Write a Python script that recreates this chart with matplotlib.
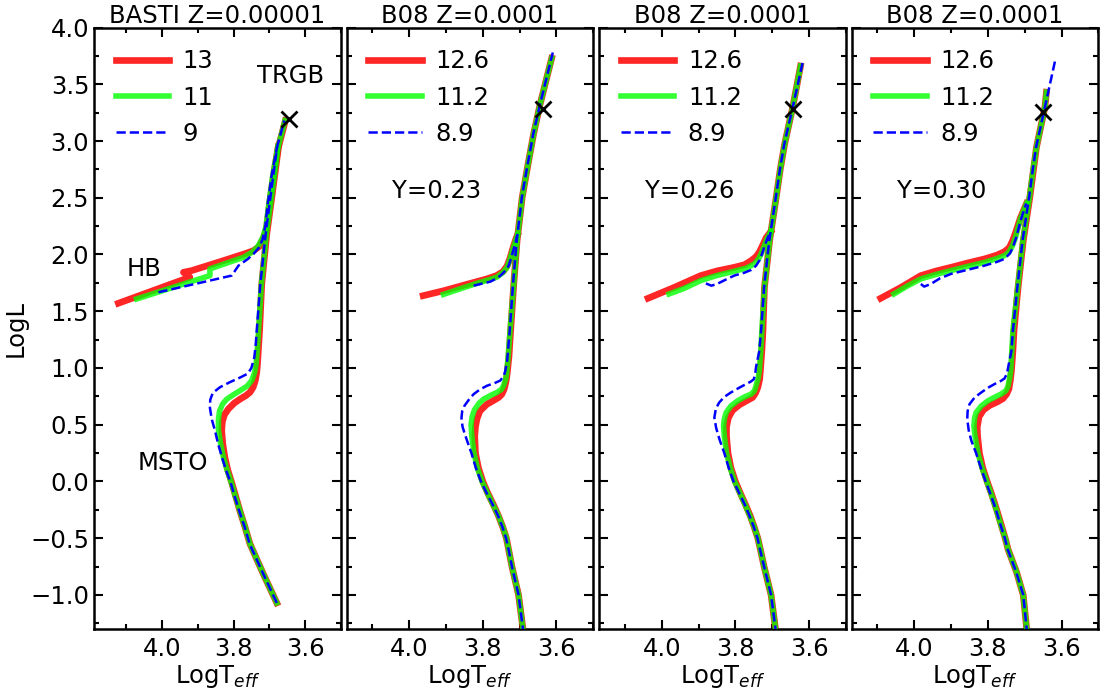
import matplotlib
matplotlib.use("Agg")
import matplotlib.pyplot as plt
from matplotlib.ticker import MultipleLocator

FS = 17.5

plt.rcParams.update({
    "font.family": "DejaVu Sans",
    "font.size": FS,
    "axes.linewidth": 1.8,
    "xtick.direction": "in",
    "ytick.direction": "in",
    "xtick.top": True,
    "ytick.right": True,
    "xtick.major.size": 6.5,
    "ytick.major.size": 6.5,
    "xtick.minor.size": 3.5,
    "ytick.minor.size": 3.5,
    "xtick.major.width": 1.5,
    "ytick.major.width": 1.5,
    "xtick.minor.width": 1.5,
    "ytick.minor.width": 1.5,
    "xtick.major.pad": 6,
})

titles = ["BASTI Z=0.00001", "B08 Z=0.0001", "B08 Z=0.0001", "B08 Z=0.0001"]
age_labels = [["13", "11", "9"], ["12.6", "11.2", "8.9"], ["12.6", "11.2", "8.9"], ["12.6", "11.2", "8.9"]]
helium = [None, "Y=0.23", "Y=0.26", "Y=0.30"]
x_limits = [(4.19, 3.5), (4.17, 3.5), (4.17, 3.5), (4.17, 3.5)]

# (LogTeff, LogL): main sequence -> RGB tip, then HB -> AGB
basti_13_ms = [(3.679, -1.07), (3.716, -0.82), (3.754, -0.55), (3.768, -0.40), (3.782, -0.26),
               (3.794, -0.13), (3.805, -0.01), (3.816, 0.10), (3.824, 0.21), (3.830, 0.33),
               (3.833, 0.45), (3.831, 0.53), (3.825, 0.59), (3.814, 0.64), (3.798, 0.69),
               (3.782, 0.725), (3.766, 0.755), (3.754, 0.785), (3.745, 0.83), (3.739, 0.89),
               (3.735, 0.96), (3.733, 1.03), (3.730, 1.18), (3.727, 1.33), (3.721, 1.74),
               (3.707, 2.18), (3.693, 2.50), (3.674, 2.95), (3.655, 3.18)]
basti_11_ms = [(3.679, -1.07), (3.716, -0.82), (3.754, -0.55), (3.768, -0.40), (3.782, -0.26),
               (3.795, -0.13), (3.806, -0.01), (3.818, 0.10), (3.828, 0.21), (3.836, 0.33),
               (3.842, 0.45), (3.842, 0.55), (3.839, 0.62), (3.831, 0.68), (3.819, 0.725),
               (3.800, 0.765), (3.782, 0.80), (3.762, 0.84), (3.749, 0.89), (3.741, 0.96),
               (3.737, 1.03), (3.733, 1.18), (3.730, 1.33), (3.722, 1.74), (3.708, 2.18),
               (3.694, 2.50), (3.675, 2.95), (3.656, 3.18)]
basti_9_ms = [(3.679, -1.07), (3.716, -0.82), (3.755, -0.55), (3.769, -0.40), (3.784, -0.26),
              (3.797, -0.13), (3.808, -0.01), (3.821, 0.10), (3.832, 0.21), (3.843, 0.33),
              (3.852, 0.45), (3.861, 0.55), (3.866, 0.65), (3.865, 0.72), (3.858, 0.78),
              (3.838, 0.83), (3.810, 0.875), (3.782, 0.915), (3.760, 0.95), (3.750, 1.00),
              (3.742, 1.09), (3.738, 1.20), (3.735, 1.33), (3.725, 1.74), (3.710, 2.18),
              (3.697, 2.50), (3.678, 2.95), (3.658, 3.18)]
basti_13_hb = [(4.122, 1.57), (3.922, 1.80), (3.940, 1.843), (3.917, 1.858), (3.828, 1.946),
               (3.765, 2.01), (3.744, 2.034), (3.728, 2.07), (3.717, 2.14), (3.708, 2.22),
               (3.699, 2.45), (3.688, 2.70), (3.675, 2.95)]
basti_11_hb = [(4.071, 1.608), (3.866, 1.814), (3.866, 1.873), (3.772, 1.975), (3.748, 2.02),
               (3.732, 2.07), (3.718, 2.15), (3.709, 2.25), (3.701, 2.45), (3.690, 2.70),
               (3.676, 2.95)]
basti_9_hb = [(4.010, 1.667), (3.805, 1.814), (3.786, 1.902), (3.760, 1.96), (3.744, 2.005),
              (3.729, 2.06), (3.719, 2.13), (3.711, 2.25), (3.704, 2.45), (3.693, 2.70),
              (3.678, 2.95)]

y23_126_ms = [(3.689, -1.35), (3.703, -1.0), (3.721, -0.75), (3.730, -0.6), (3.736, -0.5),
              (3.746, -0.4), (3.758, -0.3), (3.772, -0.2), (3.787, -0.1), (3.800, 0.0),
              (3.812, 0.12), (3.820, 0.25), (3.822, 0.40), (3.820, 0.48), (3.816, 0.55),
              (3.808, 0.62), (3.789, 0.68), (3.770, 0.715), (3.757, 0.74), (3.748, 0.77),
              (3.742, 0.814), (3.737, 0.88), (3.734, 0.946), (3.729, 1.10), (3.725, 1.30),
              (3.716, 1.74), (3.707, 2.12), (3.693, 2.505), (3.677, 2.80), (3.662, 3.064),
              (3.644, 3.33), (3.613, 3.73)]
y23_112_ms = [(3.689, -1.35), (3.703, -1.0), (3.721, -0.75), (3.730, -0.6), (3.736, -0.5),
              (3.746, -0.4), (3.758, -0.3), (3.773, -0.2), (3.788, -0.1), (3.802, 0.0),
              (3.815, 0.12), (3.824, 0.25), (3.830, 0.40), (3.832, 0.50), (3.829, 0.57),
              (3.823, 0.63), (3.810, 0.69), (3.798, 0.725), (3.778, 0.76), (3.762, 0.784),
              (3.750, 0.81), (3.744, 0.843), (3.738, 0.90), (3.735, 0.96), (3.730, 1.152),
              (3.726, 1.33), (3.716, 1.74), (3.707, 2.12), (3.693, 2.505), (3.677, 2.80),
              (3.662, 3.064), (3.644, 3.33), (3.613, 3.73)]
y23_89_ms = [(3.689, -1.35), (3.703, -1.0), (3.721, -0.75), (3.730, -0.6), (3.737, -0.5),
             (3.747, -0.4), (3.759, -0.3), (3.774, -0.2), (3.790, -0.1), (3.805, 0.0),
             (3.819, 0.12), (3.831, 0.25), (3.845, 0.38), (3.855, 0.48), (3.858, 0.56),
             (3.856, 0.62), (3.850, 0.666), (3.838, 0.72), (3.825, 0.769), (3.808, 0.81),
             (3.789, 0.843), (3.768, 0.867), (3.753, 0.888), (3.743, 0.93), (3.739, 0.975),
             (3.734, 1.06), (3.727, 1.33), (3.718, 1.74), (3.708, 2.12), (3.694, 2.505),
             (3.678, 2.80), (3.663, 3.064), (3.644, 3.33), (3.610, 3.78)]
y23_126_hb = [(3.962, 1.637), (3.907, 1.68), (3.840, 1.74), (3.789, 1.785), (3.762, 1.815),
              (3.745, 1.85), (3.734, 1.90), (3.726, 1.97), (3.718, 2.06), (3.710, 2.14),
              (3.706, 2.17)]
y23_112_hb = [(3.907, 1.648), (3.850, 1.71), (3.807, 1.755), (3.780, 1.78), (3.762, 1.80),
              (3.746, 1.84), (3.734, 1.887), (3.726, 1.96), (3.719, 2.04), (3.711, 2.12),
              (3.706, 2.17)]
y23_89_hb = [(3.825, 1.725), (3.800, 1.745), (3.780, 1.76), (3.762, 1.79), (3.750, 1.82),
             (3.738, 1.86), (3.730, 1.90), (3.723, 1.97), (3.716, 2.05), (3.710, 2.12),
             (3.707, 2.17)]

y26_126_ms = [(3.689, -1.35), (3.703, -1.0), (3.722, -0.75), (3.732, -0.6), (3.739, -0.5),
              (3.749, -0.4), (3.760, -0.3), (3.773, -0.2), (3.787, -0.1), (3.800, 0.0),
              (3.812, 0.12), (3.820, 0.25), (3.824, 0.40), (3.824, 0.48), (3.819, 0.56),
              (3.808, 0.625), (3.789, 0.675), (3.770, 0.71), (3.753, 0.74), (3.745, 0.78),
              (3.739, 0.828), (3.734, 0.90), (3.732, 0.975), (3.728, 1.15), (3.725, 1.33),
              (3.721, 1.71), (3.707, 2.12), (3.689, 2.505), (3.678, 2.75), (3.666, 2.976),
              (3.644, 3.30), (3.623, 3.66)]
y26_112_ms = [(3.689, -1.35), (3.703, -1.0), (3.722, -0.75), (3.732, -0.6), (3.739, -0.5),
              (3.749, -0.4), (3.761, -0.3), (3.774, -0.2), (3.788, -0.1), (3.802, 0.0),
              (3.814, 0.12), (3.824, 0.25), (3.830, 0.40), (3.832, 0.49), (3.830, 0.55),
              (3.825, 0.607), (3.812, 0.665), (3.794, 0.71), (3.775, 0.745), (3.757, 0.77),
              (3.748, 0.80), (3.744, 0.843), (3.738, 0.91), (3.735, 0.975), (3.731, 1.15),
              (3.728, 1.33), (3.721, 1.71), (3.707, 2.12), (3.689, 2.505), (3.678, 2.75),
              (3.666, 2.976), (3.644, 3.30), (3.623, 3.66)]
y26_89_ms = [(3.689, -1.35), (3.703, -1.0), (3.722, -0.75), (3.733, -0.6), (3.740, -0.5),
             (3.750, -0.4), (3.762, -0.3), (3.775, -0.2), (3.790, -0.1), (3.805, 0.0),
             (3.818, 0.12), (3.830, 0.25), (3.843, 0.37), (3.852, 0.47), (3.857, 0.563),
             (3.853, 0.64), (3.844, 0.695), (3.830, 0.745), (3.812, 0.784), (3.790, 0.825),
             (3.771, 0.858), (3.758, 0.88), (3.750, 0.90), (3.746, 0.95), (3.744, 1.005),
             (3.735, 1.15), (3.730, 1.33), (3.722, 1.71), (3.708, 2.12), (3.690, 2.505),
             (3.679, 2.75), (3.667, 2.976), (3.644, 3.30), (3.616, 3.71)]
y26_126_hb = [(4.037, 1.614), (3.966, 1.71), (3.894, 1.814), (3.850, 1.855), (3.803, 1.887),
              (3.775, 1.91), (3.757, 1.946), (3.744, 1.98), (3.735, 2.02), (3.726, 2.08),
              (3.716, 2.15), (3.704, 2.20)]
y26_112_hb = [(3.980, 1.652), (3.940, 1.70), (3.894, 1.77), (3.850, 1.815), (3.803, 1.852),
              (3.770, 1.88), (3.748, 1.917), (3.737, 1.96), (3.730, 2.005), (3.722, 2.07),
              (3.714, 2.14), (3.704, 2.20)]
y26_89_hb = [(3.880, 1.745), (3.865, 1.725), (3.850, 1.74), (3.825, 1.78), (3.803, 1.814),
             (3.775, 1.84), (3.757, 1.864), (3.744, 1.90), (3.735, 1.946), (3.728, 2.00),
             (3.721, 2.07), (3.713, 2.14), (3.705, 2.20)]

y30_126_ms = [(3.693, -1.35), (3.704, -1.0), (3.722, -0.8), (3.745, -0.6), (3.753, -0.5),
              (3.764, -0.38), (3.776, -0.25), (3.789, -0.12), (3.802, 0.0), (3.814, 0.12),
              (3.823, 0.25), (3.828, 0.40), (3.829, 0.475), (3.824, 0.57), (3.812, 0.63),
              (3.795, 0.67), (3.775, 0.70), (3.759, 0.73), (3.749, 0.77), (3.743, 0.814),
              (3.739, 0.89), (3.736, 0.975), (3.732, 1.15), (3.729, 1.33), (3.718, 1.71),
              (3.704, 2.12), (3.686, 2.505), (3.676, 2.75), (3.668, 2.946), (3.645, 3.30),
              (3.641, 3.43)]
y30_112_ms = [(3.693, -1.35), (3.704, -1.0), (3.722, -0.8), (3.745, -0.6), (3.753, -0.5),
              (3.765, -0.38), (3.777, -0.25), (3.790, -0.12), (3.803, 0.0), (3.816, 0.12),
              (3.827, 0.25), (3.835, 0.40), (3.838, 0.49), (3.836, 0.56), (3.832, 0.607),
              (3.818, 0.665), (3.800, 0.71), (3.780, 0.745), (3.764, 0.77), (3.751, 0.80),
              (3.745, 0.843), (3.741, 0.91), (3.738, 0.975), (3.735, 1.15), (3.732, 1.33),
              (3.719, 1.71), (3.705, 2.12), (3.687, 2.505), (3.677, 2.75), (3.668, 2.946),
              (3.645, 3.30), (3.641, 3.43)]
y30_89_ms = [(3.693, -1.35), (3.704, -1.0), (3.723, -0.8), (3.746, -0.6), (3.754, -0.5),
             (3.766, -0.38), (3.778, -0.25), (3.792, -0.12), (3.806, 0.0), (3.819, 0.12),
             (3.832, 0.25), (3.845, 0.36), (3.852, 0.45), (3.856, 0.55), (3.855, 0.62),
             (3.850, 0.68), (3.836, 0.74), (3.818, 0.784), (3.800, 0.825), (3.782, 0.858),
             (3.765, 0.885), (3.755, 0.907), (3.748, 0.95), (3.745, 1.005), (3.736, 1.15),
             (3.732, 1.33), (3.720, 1.71), (3.706, 2.12), (3.688, 2.505), (3.678, 2.75),
             (3.669, 2.946), (3.645, 3.30), (3.618, 3.70)]
y30_126_hb = [(4.091, 1.614), (4.036, 1.71), (3.982, 1.814), (3.940, 1.855), (3.900, 1.887),
              (3.855, 1.925), (3.809, 1.961), (3.775, 1.995), (3.755, 2.025), (3.742, 2.06),
              (3.733, 2.12), (3.725, 2.19), (3.712, 2.32), (3.695, 2.45)]
y30_112_hb = [(4.055, 1.652), (4.020, 1.72), (3.982, 1.785), (3.940, 1.825), (3.900, 1.858),
              (3.855, 1.895), (3.809, 1.93), (3.775, 1.965), (3.755, 1.99), (3.743, 2.02),
              (3.734, 2.07), (3.726, 2.14), (3.712, 2.31), (3.695, 2.45)]
y30_89_hb = [(3.982, 1.74), (3.973, 1.717), (3.955, 1.74), (3.930, 1.79), (3.900, 1.829),
             (3.855, 1.865), (3.809, 1.902), (3.775, 1.935), (3.755, 1.961), (3.740, 2.01),
             (3.732, 2.064), (3.723, 2.15), (3.711, 2.30), (3.696, 2.45)]

tracks = [
    [(basti_13_ms, basti_13_hb), (basti_11_ms, basti_11_hb), (basti_9_ms, basti_9_hb)],
    [(y23_126_ms, y23_126_hb), (y23_112_ms, y23_112_hb), (y23_89_ms, y23_89_hb)],
    [(y26_126_ms, y26_126_hb), (y26_112_ms, y26_112_hb), (y26_89_ms, y26_89_hb)],
    [(y30_126_ms, y30_126_hb), (y30_112_ms, y30_112_hb), (y30_89_ms, y30_89_hb)],
]
trgb_x = [3.646, 3.636, 3.644, 3.650]
trgb_y = [3.19, 3.285, 3.285, 3.255]

styles = [
    dict(color="red", alpha=0.85, lw=4.8, ls="-", zorder=2, solid_joinstyle="round"),
    dict(color="lime", alpha=0.8, lw=4.0, ls="-", zorder=3, solid_joinstyle="round"),
    dict(color="blue", lw=1.8, ls="--", zorder=4),
]

fig, axes = plt.subplots(1, 4, figsize=(11, 6.88), dpi=100, sharey=True)
fig.subplots_adjust(left=0.0855, right=0.9985, bottom=0.0858, top=0.960, wspace=0.0235)

for i, ax in enumerate(axes):
    for (ms, hb), label, style in zip(tracks[i], age_labels[i], styles):
        ax.plot([p[0] for p in ms], [p[1] for p in ms], label=label, **style)
        ax.plot([p[0] for p in hb], [p[1] for p in hb], **style)
    ax.plot(trgb_x[i], trgb_y[i], marker="x", color="black", ms=12, mew=2, zorder=5)
    ax.set_xlim(*x_limits[i])
    ax.set_ylim(-1.3, 4.0)
    ax.xaxis.set_major_locator(MultipleLocator(0.2))
    ax.xaxis.set_minor_locator(MultipleLocator(0.1))
    ax.yaxis.set_major_locator(MultipleLocator(0.5))
    ax.yaxis.set_minor_locator(MultipleLocator(0.25))
    ax.tick_params(which="both", top=True, right=True)
    ax.set_xticks([4.0, 3.8, 3.6])
    ax.set_xticklabels(["4.0", "3.8", "3.6"])
    ax.set_title(titles[i], fontsize=FS, pad=3)
    ax.set_xlabel(r"LogT$_{eff}$", labelpad=1)
    ax.legend(loc="upper left", frameon=False, fontsize=FS, handlelength=2.2,
              labelspacing=0.5, borderaxespad=0.5, handletextpad=0.55)
    if helium[i]:
        ax.text(3.925, 2.56, helium[i], ha="center", va="center", fontsize=FS)

axes[0].set_ylabel("LogL", labelpad=2)
axes[0].text(4.05, 1.87, "HB", ha="center", va="center", fontsize=FS)
axes[0].text(3.97, 0.16, "MSTO", ha="center", va="center", fontsize=FS)
axes[0].text(3.64, 3.57, "TRGB", ha="center", va="center", fontsize=FS)

fig.savefig("out.png", dpi=100)
